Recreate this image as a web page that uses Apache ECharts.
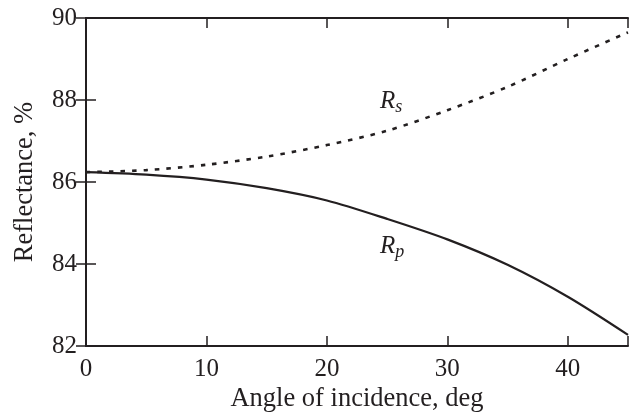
<!DOCTYPE html>
<html>
<head>
<meta charset="utf-8">
<script src="https://cdn.jsdelivr.net/npm/echarts@6/dist/echarts.min.js"></script>
<style>
  html, body { margin: 0; padding: 0; background: #fff; }
  #main { width: 631px; height: 412px; }
</style>
</head>
<body>
<div id="main"></div>
<script>
// angle of incidence, deg
const angles = [0, 5, 10, 15, 20, 25, 30, 35, 40, 45]
// reflectance, %
const rs = [86.24, 86.29, 86.42, 86.62, 86.9, 87.25, 87.75, 88.32, 89.0, 89.65]
const rp = [86.24, 86.18, 86.06, 85.85, 85.55, 85.1, 84.6, 83.98, 83.2, 82.27]
const xTicks = [0, 10, 20, 30, 40]
const yTicks = [82, 84, 86, 88, 90]

const font = '"Liberation Serif", "Times New Roman", serif'
const ink = '#231f20'

let chart = echarts.init(document.getElementById('main'))

const lineStyle = { color: ink, width: 2 }
const tick = { show: true, inside: true, length: 10, lineStyle: { color: ink, width: 1.5 } }
const labelRich = {
  r: { fontFamily: font, fontStyle: 'italic', fontSize: 25, fill: ink },
  s: { fontFamily: font, fontStyle: 'italic', fontSize: 18, fill: ink, padding: [12, 0, 0, 0] },
}

chart.setOption({
  animation: false,
  grid: { left: 86, right: 3, top: 18, bottom: 66, containLabel: false, outerBoundsMode: 'none' },
  xAxis: [
    {
      type: 'value', min: 0, max: 45, interval: 10,
      axisLine: { show: true, lineStyle },
      axisTick: tick,
      splitLine: { show: false },
      axisLabel: {
        fontFamily: font, fontSize: 25, color: ink, margin: 11,
        formatter: v => (xTicks.includes(v) ? String(v) : ''),
      },
      name: 'Angle of incidence, deg',
      nameLocation: 'middle',
      nameGap: 40,
      nameMoveOverlap: false,
      nameTextStyle: { fontFamily: font, fontSize: 26.5, color: ink },
    },
    {
      type: 'value', min: 0, max: 45, interval: 10, position: 'top',
      axisLine: { show: true, lineStyle },
      axisTick: tick,
      axisLabel: { show: false },
      splitLine: { show: false },
    },
  ],
  yAxis: [
    {
      type: 'value', min: 82, max: 90, interval: 2,
      axisLine: { show: true, lineStyle },
      axisTick: tick,
      splitLine: { show: false },
      axisLabel: {
        fontFamily: font, fontSize: 25, color: ink, margin: 9,
        formatter: v => (yTicks.includes(v) ? String(v) : ''),
      },
      name: 'Reflectance, %',
      nameLocation: 'middle',
      nameGap: 47,
      nameMoveOverlap: false,
      nameTextStyle: { fontFamily: font, fontSize: 26.5, color: ink },
    },
    {
      type: 'value', min: 82, max: 90, interval: 2, position: 'right',
      axisLine: { show: true, lineStyle },
      axisTick: tick,
      axisLabel: { show: false },
      splitLine: { show: false },
    },
  ],
  series: [
    {
      name: 'Rs',
      type: 'line',
      smooth: 0.3,
      symbol: 'none',
      lineStyle: { color: ink, width: 2.6, type: [4.5, 7] },
      data: angles.map((a, i) => [a, rs[i]]),
    },
    {
      name: 'Rp',
      type: 'line',
      smooth: 0.3,
      symbol: 'none',
      lineStyle: { color: ink, width: 2.2 },
      data: angles.map((a, i) => [a, rp[i]]),
    },
  ],
  graphic: [
    { type: 'text', left: 380, top: 89, style: { text: '{r|R}{s|s}', rich: labelRich } },
    { type: 'text', left: 380, top: 234, style: { text: '{r|R}{s|p}', rich: labelRich } },
  ],
})
</script>
</body>
</html>
